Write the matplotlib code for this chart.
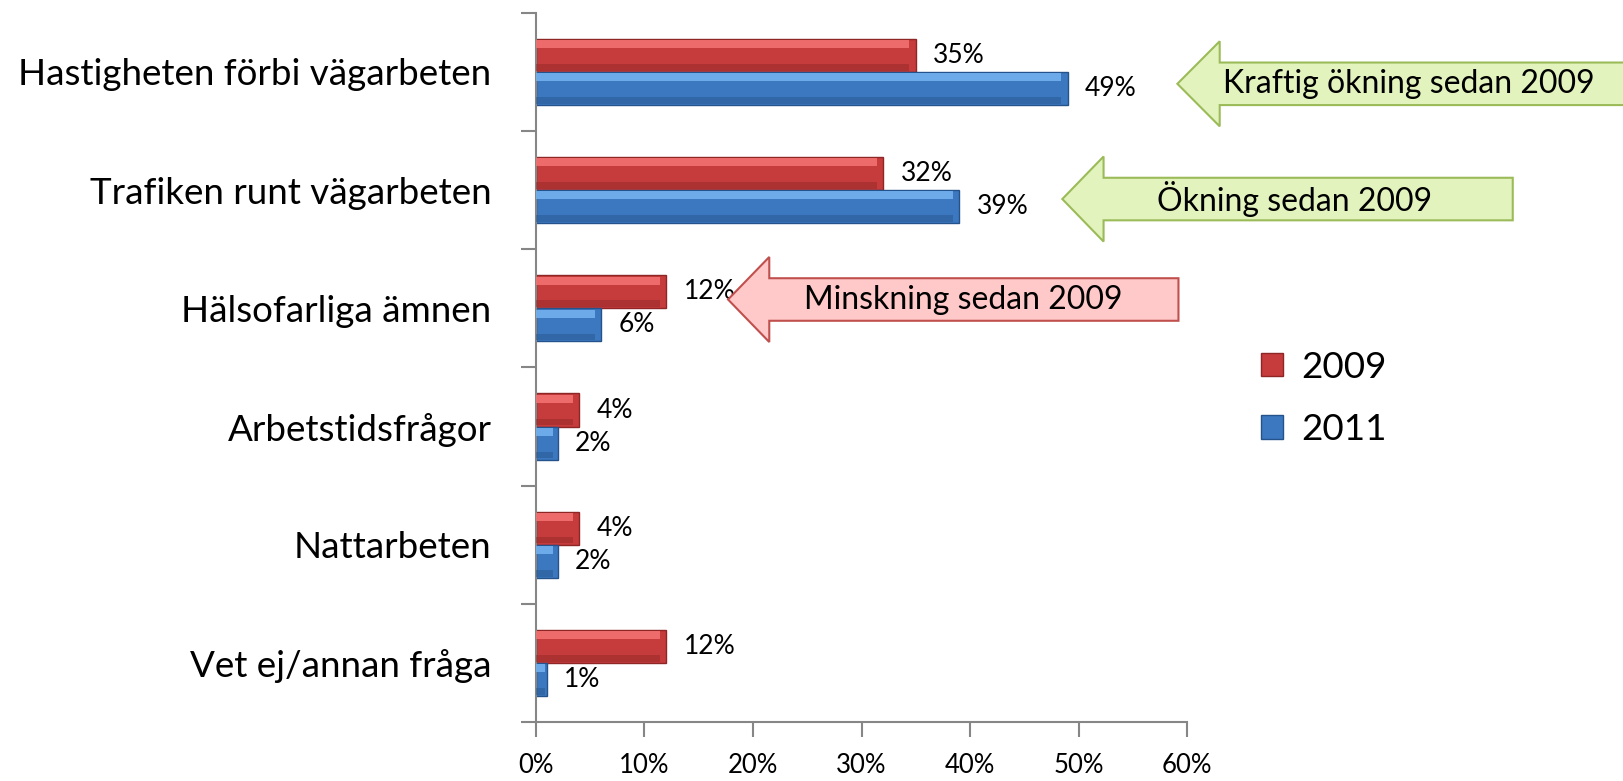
import numpy as np
import matplotlib.pyplot as plt
from matplotlib.patches import Polygon, Patch

categories = ['Hastigheten förbi vägarbeten', 'Trafiken runt vägarbeten', 'Hälsofarliga ämnen',
              'Arbetstidsfrågor', 'Nattarbeten', 'Vet ej/annan fråga']
values_2009 = [35, 32, 12, 4, 4, 12]
values_2011 = [49, 39, 6, 2, 2, 1]
series_names = ['2009', '2011']
xticks = [0, 10, 20, 30, 40, 50, 60]
xtick_labels = ['0%', '10%', '20%', '30%', '40%', '50%', '60%']

plt.rcParams['font.family'] = ['Lato', 'DejaVu Sans']

fig = plt.figure(figsize=(16.24, 7.81), dpi=100)
ax = fig.add_axes([0.330, 0.0755, 0.401, 0.908])

h = 0.28
y = np.arange(len(categories))

red = dict(base='#C63B3B', light='#F47474', dark='#8E2626')
blue = dict(base='#3C78C0', light='#76B4F2', dark='#24528A')


def bevel_bars(ypos, vals, c):
    vals = np.asarray(vals, dtype=float)
    inner = vals - np.minimum(0.6, vals * 0.2)
    ax.barh(ypos, vals, height=h, color=c['base'], edgecolor=c['dark'], linewidth=1, zorder=2)
    ax.barh(ypos - h * 0.34, inner, height=h * 0.24, color=c['light'], alpha=0.85, linewidth=0, zorder=3)
    ax.barh(ypos + h * 0.36, inner, height=h * 0.2, color=c['dark'], alpha=0.45, linewidth=0, zorder=3)
    for yy, v in zip(ypos, vals):
        ax.text(v + 1.6, yy, f'{int(v)}%', va='center', ha='left', fontsize=19, zorder=4)


bevel_bars(y - h / 2, values_2009, red)
bevel_bars(y + h / 2, values_2011, blue)

ax.set_xlim(0, 60)
ax.set_ylim(5.5, -0.5)
ax.set_xticks(xticks)
ax.set_xticklabels(xtick_labels, fontsize=18.5)
ax.set_yticks(y)
ax.set_yticklabels(categories, fontsize=26.5)
ax.set_yticks(np.arange(-0.5, 6, 1), minor=True)
ax.tick_params(axis='y', which='major', length=0, pad=32)
ax.tick_params(axis='y', which='minor', length=11, width=1.5, color='#868686')
ax.tick_params(axis='x', length=11, width=1.5, color='#868686', pad=11)
for s in ['top', 'right']:
    ax.spines[s].set_visible(False)
for s in ['left', 'bottom']:
    ax.spines[s].set_color('#868686')
    ax.spines[s].set_linewidth(1.5)


def block_arrow(tip, body_left, body_right, yc, text, tx, face, edge):
    bh, hh = 0.18, 0.36
    pts = [(tip, yc), (body_left, yc - hh), (body_left, yc - bh), (body_right, yc - bh),
           (body_right, yc + bh), (body_left, yc + bh), (body_left, yc + hh)]
    ax.add_patch(Polygon(pts, closed=True, facecolor=face, edgecolor=edge, lw=1.5,
                         clip_on=False, zorder=5))
    ax.text(tx, yc, text, ha='center', va='center', fontsize=23, zorder=6, clip_on=False)


block_arrow(59.1, 63.0, 110, 0.10, 'Kraftig ökning sedan 2009', 80.4, '#E2F3BE', '#9BBB59')
block_arrow(48.5, 52.3, 90.0, 1.075, 'Ökning sedan 2009', 69.9, '#E2F3BE', '#9BBB59')
block_arrow(17.7, 21.5, 59.2, 1.925, 'Minskning sedan 2009', 39.4, '#FFC9C9', '#C0504D')

handles = [Patch(facecolor=red['base'], edgecolor=red['dark']),
           Patch(facecolor=blue['base'], edgecolor=blue['dark'])]
fig.legend(handles, series_names, loc='center left', bbox_to_anchor=(0.7765, 0.49),
           frameon=False, fontsize=26.5, handlelength=0.6, handleheight=0.6,
           labelspacing=0.8, handletextpad=0.5, borderpad=0, borderaxespad=0)

fig.savefig('out.png', dpi=100)
